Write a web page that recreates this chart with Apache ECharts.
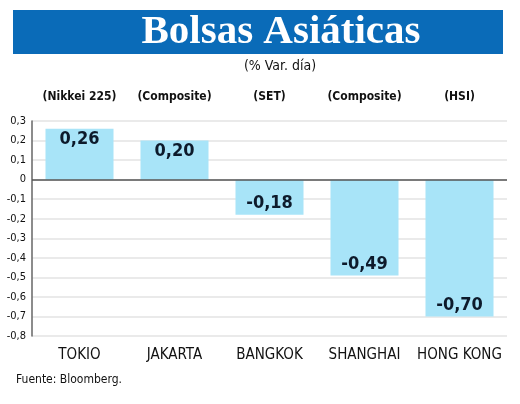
<!DOCTYPE html>
<html>
<head>
<meta charset="utf-8">
<script src="https://cdn.jsdelivr.net/npm/echarts@6/dist/echarts.min.js"></script>
<style>
  html, body { margin: 0; padding: 0; background: #fff; }
  #container { width: 520px; height: 404px; }
</style>
</head>
<body>
<div id="container"></div>
<script>
  var dom = document.getElementById("container");
  var myChart = echarts.init(dom);

  // datos
  var plazas = ['TOKIO', 'JAKARTA', 'BANGKOK', 'SHANGHAI', 'HONG KONG'];
  var indices = ['(Nikkei 225)', '(Composite)', '(SET)', '(Composite)', '(HSI)'];
  var variacion = [0.26, 0.20, -0.18, -0.49, -0.70];
  var ticksY = [0.3, -0.8];

  var fuenteNarrow = '"DejaVu Sans Condensed", "Liberation Sans Narrow", "Open Sans", sans-serif';

  function coma(v) {
      return String(v).replace('.', ',');
  }

  var option = {
      animation: false,
      backgroundColor: '#ffffff',
      graphic: [
          //banda azul del título
          {
              type: 'rect',
              shape: { x: 13, y: 10, width: 490, height: 44 },
              style: { fill: '#0a6bb8' }
          },
          {
              type: 'text',
              x: 281,
              y: 32,
              style: {
                  text: 'Bolsas Asiáticas',
                  fill: '#ffffff',
                  align: 'center',
                  verticalAlign: 'middle',
                  font: 'bold 41px "Liberation Serif", serif'
              }
          },
          {
              type: 'text',
              x: 280,
              y: 66,
              style: {
                  text: '(% Var. día)',
                  fill: '#111',
                  align: 'center',
                  verticalAlign: 'middle',
                  font: '14px ' + fuenteNarrow
              }
          },
          {
              type: 'text',
              left: 16,
              top: 374,
              style: {
                  text: 'Fuente: Bloomberg.',
                  fill: '#111',
                  font: '12px ' + fuenteNarrow
              }
          }
      ],
      grid: {
          left: 32,
          right: 13,
          top: 121,
          bottom: 68
      },
      xAxis: [{
              type: 'category',
              data: plazas,
              position: 'bottom',
              axisLine: { show: false },
              axisTick: { show: false },
              axisLabel: {
                  interval: 0,
                  margin: 12,
                  color: '#111',
                  fontSize: 15,
                  fontFamily: fuenteNarrow
              }
          },
          {
              type: 'category',
              data: indices,
              position: 'top',
              axisLine: { show: false },
              axisTick: { show: false },
              axisLabel: {
                  interval: 0,
                  margin: 18,
                  color: '#111',
                  fontSize: 12,
                  fontWeight: 'bold',
                  fontFamily: fuenteNarrow
              }
          }
      ],
      yAxis: {
          type: 'value',
          min: -0.8,
          max: ticksY[0],
          interval: 0.1,
          axisLine: { show: true, onZero: false, lineStyle: { color: '#666', width: 1.5 } },
          axisTick: { show: false },
          splitLine: { lineStyle: { color: '#e3e3e3', width: 1.5 } },
          axisLabel: {
              margin: 6,
              color: '#111',
              fontSize: 11,
              fontFamily: fuenteNarrow,
              formatter: function (v) {
                  return coma(Math.round(v * 10) / 10);
              }
          }
      },
      series: [{
              type: 'bar',
              barWidth: 68,
              xAxisIndex: 0,
              data: variacion.map(function (v) {
                  return {
                      value: v,
                      label: { position: v >= 0 ? 'insideTop' : 'insideBottom' }
                  };
              }),
              itemStyle: { color: '#a8e4f8' },
              label: {
                  show: true,
                  distance: 2,
                  color: '#0d1a2b',
                  fontSize: 18,
                  fontWeight: 'bold',
                  fontFamily: fuenteNarrow,
                  formatter: function (p) {
                      return coma(p.value.toFixed(2));
                  }
              },
              markLine: {
                  silent: true,
                  symbol: 'none',
                  label: { show: false },
                  lineStyle: { color: '#555', width: 1.5, type: 'solid' },
                  data: [{ yAxis: 0 }]
              }
          }
      ]
  };

  myChart.setOption(option, true);
</script>
</body>
</html>
